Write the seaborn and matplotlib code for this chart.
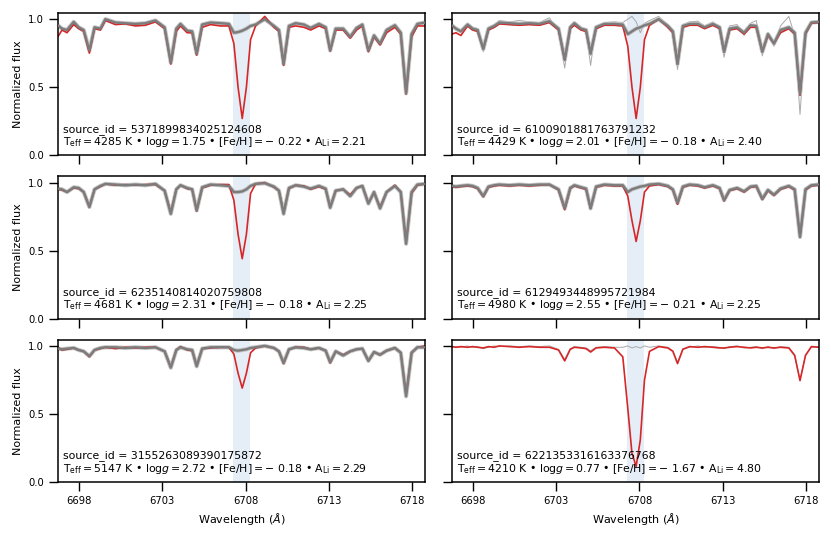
import matplotlib
matplotlib.use("Agg")
import matplotlib.pyplot as plt
import seaborn as sns

# wavelength knots (Angstrom), shared by all panels
wave = [6696.75, 6697.0, 6697.3, 6697.7, 6698.0, 6698.3, 6698.64, 6698.95, 6699.3, 6699.6,
        6700.2, 6700.8, 6701.4, 6702.0, 6702.6, 6703.15, 6703.52, 6703.85, 6704.1, 6704.5,
        6704.8, 6705.07, 6705.4, 6705.9, 6706.5, 6707.0, 6707.3, 6707.55, 6707.8, 6708.05,
        6708.3, 6708.6, 6709.15, 6709.7, 6710.0, 6710.28, 6710.6, 6711.0, 6711.5, 6711.9,
        6712.4, 6712.8, 6713.07, 6713.4, 6713.85, 6714.27, 6714.65, 6715.0, 6715.36, 6715.7,
        6716.06, 6716.45, 6716.95, 6717.3, 6717.62, 6717.95, 6718.3, 6718.75]

# target star (red) per panel, in subplot order
red_1 = [0.87, 0.92, 0.90, 0.96, 0.93, 0.91, 0.75, 0.93, 0.92, 0.99,
         0.96, 0.965, 0.95, 0.955, 0.98, 0.93, 0.67, 0.91, 0.95, 0.90,
         0.90, 0.735, 0.94, 0.96, 0.95, 0.95, 0.82, 0.50, 0.27, 0.50,
         0.85, 0.95, 1.02, 0.94, 0.91, 0.66, 0.94, 0.95, 0.94, 0.92,
         0.95, 0.93, 0.765, 0.92, 0.92, 0.86, 0.92, 0.95, 0.76, 0.87,
         0.81, 0.90, 0.94, 0.89, 0.45, 0.87, 0.95, 0.95]
red_2 = [0.89, 0.90, 0.88, 0.95, 0.92, 0.91, 0.78, 0.92, 0.94, 0.965,
         0.96, 0.955, 0.96, 0.955, 0.975, 0.92, 0.70, 0.93, 0.955, 0.92,
         0.91, 0.75, 0.93, 0.955, 0.955, 0.95, 0.80, 0.50, 0.27, 0.50,
         0.85, 0.955, 1.00, 0.94, 0.90, 0.67, 0.94, 0.955, 0.955, 0.93,
         0.955, 0.93, 0.76, 0.92, 0.93, 0.89, 0.94, 0.94, 0.76, 0.88,
         0.82, 0.90, 0.93, 0.89, 0.44, 0.89, 0.97, 0.975]
red_3 = [0.95, 0.945, 0.93, 0.96, 0.955, 0.93, 0.82, 0.95, 0.97, 0.99,
         0.98, 0.985, 0.98, 0.985, 0.985, 0.94, 0.78, 0.95, 0.98, 0.955,
         0.95, 0.79, 0.96, 0.98, 0.985, 0.985, 0.87, 0.62, 0.44, 0.62,
         0.92, 0.99, 1.00, 0.965, 0.94, 0.78, 0.955, 0.98, 0.975, 0.95,
         0.97, 0.95, 0.82, 0.94, 0.95, 0.91, 0.96, 0.975, 0.85, 0.925,
         0.82, 0.93, 0.98, 0.93, 0.56, 0.92, 0.98, 0.99]
red_4 = [0.97, 0.965, 0.97, 0.975, 0.97, 0.955, 0.895, 0.965, 0.975, 0.98,
         0.975, 0.98, 0.975, 0.98, 0.985, 0.945, 0.80, 0.955, 0.975, 0.96,
         0.95, 0.81, 0.965, 0.98, 0.975, 0.975, 0.90, 0.72, 0.567, 0.72,
         0.93, 0.975, 0.985, 0.97, 0.945, 0.84, 0.965, 0.98, 0.975, 0.96,
         0.975, 0.955, 0.865, 0.94, 0.955, 0.93, 0.965, 0.97, 0.875, 0.94,
         0.905, 0.95, 0.97, 0.945, 0.60, 0.945, 0.975, 0.98]
red_5 = [0.99, 0.97, 0.975, 0.985, 0.97, 0.96, 0.92, 0.97, 0.98, 0.99,
         0.98, 0.99, 0.985, 0.99, 0.99, 0.96, 0.845, 0.97, 0.995, 0.97,
         0.965, 0.855, 0.98, 0.985, 0.99, 0.99, 0.94, 0.80, 0.69, 0.80,
         0.95, 0.985, 1.00, 0.985, 0.96, 0.87, 0.975, 0.99, 0.99, 0.975,
         0.985, 0.965, 0.875, 0.96, 0.935, 0.96, 0.975, 0.98, 0.89, 0.955,
         0.935, 0.965, 0.985, 0.95, 0.64, 0.95, 0.99, 1.00]
red_6 = [0.995, 0.99, 0.995, 0.99, 0.995, 0.99, 0.985, 0.995, 0.99, 1.00,
         0.995, 0.99, 0.995, 0.99, 0.99, 0.97, 0.89, 0.975, 0.99, 0.985,
         0.98, 0.955, 0.985, 0.99, 0.985, 0.92, 0.54, 0.21, 0.115, 0.31,
         0.75, 0.96, 0.995, 0.985, 0.96, 0.87, 0.975, 0.995, 0.99, 0.995,
         0.99, 0.985, 0.985, 0.99, 0.995, 0.99, 0.985, 0.99, 0.985, 0.99,
         0.985, 0.99, 0.985, 0.93, 0.745, 0.93, 0.995, 0.99]

# median of the comparison stars (grey), panels 1-5
grey_1 = [0.955, 0.93, 0.92, 0.98, 0.94, 0.92, 0.77, 0.94, 0.93, 1.00,
          0.975, 0.97, 0.965, 0.97, 0.99, 0.94, 0.68, 0.93, 0.965, 0.915,
          0.91, 0.745, 0.96, 0.975, 0.97, 0.965, 0.90, 0.905, 0.915, 0.93,
          0.95, 0.96, 1.00, 0.95, 0.92, 0.67, 0.95, 0.97, 0.96, 0.935,
          0.965, 0.94, 0.77, 0.93, 0.93, 0.87, 0.935, 0.96, 0.77, 0.88,
          0.82, 0.92, 0.955, 0.90, 0.455, 0.89, 0.965, 0.975]
grey_2 = [0.955, 0.93, 0.91, 0.96, 0.93, 0.92, 0.78, 0.93, 0.95, 0.975,
          0.97, 0.965, 0.97, 0.965, 0.985, 0.93, 0.70, 0.94, 0.97, 0.93,
          0.92, 0.745, 0.94, 0.965, 0.965, 0.96, 0.89, 0.91, 0.93, 0.94,
          0.955, 0.965, 1.00, 0.95, 0.91, 0.67, 0.95, 0.965, 0.965, 0.94,
          0.965, 0.94, 0.76, 0.93, 0.94, 0.90, 0.955, 0.95, 0.76, 0.89,
          0.82, 0.92, 0.94, 0.90, 0.45, 0.90, 0.975, 0.98]
grey_3 = [0.955, 0.95, 0.93, 0.965, 0.96, 0.93, 0.82, 0.95, 0.975, 0.99,
          0.985, 0.98, 0.985, 0.98, 0.99, 0.94, 0.77, 0.95, 0.98, 0.96,
          0.95, 0.795, 0.965, 0.985, 0.98, 0.975, 0.93, 0.93, 0.935, 0.95,
          0.975, 0.99, 0.995, 0.97, 0.94, 0.77, 0.96, 0.98, 0.97, 0.955,
          0.975, 0.955, 0.815, 0.94, 0.95, 0.90, 0.96, 0.975, 0.845, 0.93,
          0.81, 0.93, 0.975, 0.93, 0.55, 0.93, 0.985, 0.99]
grey_4 = [0.975, 0.97, 0.975, 0.98, 0.975, 0.96, 0.90, 0.97, 0.98, 0.985,
          0.98, 0.985, 0.98, 0.985, 0.985, 0.95, 0.81, 0.96, 0.98, 0.965,
          0.955, 0.81, 0.97, 0.985, 0.98, 0.98, 0.93, 0.95, 0.96, 0.97,
          0.975, 0.985, 0.99, 0.975, 0.95, 0.85, 0.97, 0.985, 0.98, 0.965,
          0.98, 0.96, 0.87, 0.945, 0.96, 0.935, 0.97, 0.975, 0.88, 0.945,
          0.91, 0.955, 0.975, 0.95, 0.60, 0.95, 0.98, 0.985]
grey_5 = [0.98, 0.975, 0.98, 0.985, 0.97, 0.96, 0.925, 0.97, 0.985, 0.99,
          0.99, 0.985, 0.99, 0.985, 0.99, 0.96, 0.84, 0.97, 0.99, 0.975,
          0.97, 0.85, 0.98, 0.99, 0.99, 0.99, 0.97, 0.965, 0.97, 0.975,
          0.985, 0.99, 1.00, 0.985, 0.96, 0.875, 0.975, 0.99, 0.985, 0.975,
          0.985, 0.965, 0.88, 0.96, 0.93, 0.96, 0.975, 0.98, 0.89, 0.955,
          0.935, 0.965, 0.985, 0.95, 0.63, 0.95, 0.99, 0.99]

# single outlying comparison star in panel 2, single comparison star in panel 6
thin_2 = [0.96, 0.94, 0.92, 0.97, 0.94, 0.93, 0.76, 0.94, 0.96, 0.99,
          0.98, 0.99, 0.98, 0.975, 1.01, 0.92, 0.64, 0.95, 0.98, 0.92,
          0.91, 0.66, 0.95, 0.975, 0.98, 0.975, 1.00, 1.02, 0.98, 0.90,
          0.97, 0.99, 1.02, 0.96, 0.90, 0.63, 0.96, 0.98, 0.985, 0.95,
          0.98, 0.93, 0.72, 0.95, 0.96, 0.88, 0.97, 0.99, 0.73, 0.90,
          0.80, 0.95, 1.02, 0.88, 0.30, 0.88, 0.98, 0.99]
thin_6 = [0.99, 0.995, 0.99, 1.00, 0.99, 0.995, 0.98, 0.99, 1.00, 0.995,
          1.00, 0.995, 1.00, 0.995, 1.00, 0.975, 0.90, 0.98, 0.995, 0.99,
          0.985, 0.965, 0.99, 0.995, 0.99, 0.99, 1.00, 0.985, 0.995, 0.985,
          1.00, 0.99, 1.00, 0.99, 0.965, 0.88, 0.98, 0.99, 1.00, 0.99,
          0.995, 0.99, 0.98, 0.995, 1.00, 0.985, 0.99, 0.995, 0.98, 0.995,
          0.98, 0.995, 0.99, 0.935, 0.75, 0.935, 0.99, 0.995]

source_ids = ["5371899834025124608", "6100901881763791232", "6235140814020759808",
              "6129493448995721984", "3155263089390175872", "6221353316163376768"]
teff = [4285, 4429, 4681, 4980, 5147, 4210]
logg = [1.75, 2.01, 2.31, 2.55, 2.72, 0.77]
feh = [-0.22, -0.18, -0.18, -0.21, -0.18, -1.67]
a_li = [2.21, 2.40, 2.25, 2.25, 2.29, 4.80]

li_line = 6707.76
xticks = [6698, 6703, 6708, 6713, 6718]

reds = [red_1, red_2, red_3, red_4, red_5, red_6]
greys = [grey_1, grey_2, grey_3, grey_4, grey_5, None]
thins = [None, thin_2, None, None, None, thin_6]

sns.set_style("ticks")
plt.rcParams['font.family'] = ['DejaVu Sans']
plt.rcParams['axes.edgecolor'] = 'black'
plt.rcParams['axes.linewidth'] = 1.1
plt.rcParams['text.color'] = 'black'
plt.rcParams['axes.labelcolor'] = 'black'
plt.rcParams['xtick.color'] = 'black'
plt.rcParams['ytick.color'] = 'black'

fig, axes = plt.subplots(3, 2, figsize=(8.31, 5.38), dpi=100, sharex=True, sharey=True)
fig.subplots_adjust(left=0.0698, right=0.9856, top=0.9758, bottom=0.1041,
                    wspace=0.073, hspace=0.149)

for i, ax in enumerate(axes.flat):
    ax.axvspan(li_line - 0.5, li_line + 0.5, color='#e5edf6', lw=0, zorder=0)

    if thins[i] is not None:
        sns.lineplot(x=wave, y=thins[i], ax=ax, color='#a8a8a8', lw=0.7,
                     estimator=None, sort=False, legend=False, zorder=1)
    if greys[i] is not None:
        # soft band standing in for the spread of the comparison stars
        sns.lineplot(x=wave, y=greys[i], ax=ax, color='#c4c4c4', lw=3.0,
                     estimator=None, sort=False, legend=False, zorder=1)
    sns.lineplot(x=wave, y=reds[i], ax=ax, color='#d62728', lw=1.2,
                 estimator=None, sort=False, legend=False, zorder=2)
    if greys[i] is not None:
        sns.lineplot(x=wave, y=greys[i], ax=ax, color='#7c7c7c', lw=1.7,
                     estimator=None, sort=False, legend=False, zorder=3)

    ax.text(0.014, 0.165, f"source_id = {source_ids[i]}", transform=ax.transAxes,
            fontsize=7.8, va='baseline')
    sign = r"-\,\," if feh[i] < 0 else ""
    label = (r"T$_{\rm eff} = %d$ K • $\mathrm{log}g = %.2f$ • [Fe/H]$ = %s%.2f$ • A$_{\rm Li} = %.2f$"
             % (teff[i], logg[i], sign, abs(feh[i]), a_li[i]))
    ax.text(0.014, 0.072, label, transform=ax.transAxes, fontsize=7.8, va='baseline')

    ax.set_xlim(li_line - 11.0, li_line + 11.0)
    ax.set_ylim(0, 1.045)
    ax.set_xticks(xticks)
    ax.set_xticklabels([str(t) for t in xticks])
    ax.set_yticks([0, 0.5, 1.0])
    ax.set_yticklabels(["0.0", "0.5", "1.0"])
    ax.tick_params(length=6.5, width=1.0, labelsize=7.2)
    ax.set_xlabel("")
    ax.set_ylabel("")
    for s in ax.spines.values():
        s.set_visible(True)

for ax in axes[:, 0]:
    ax.set_ylabel("Normalized flux", fontsize=8)
for ax in axes[-1, :]:
    ax.set_xlabel(r"Wavelength ($Å$)", fontsize=8)

fig.savefig("out.png", dpi=100)
